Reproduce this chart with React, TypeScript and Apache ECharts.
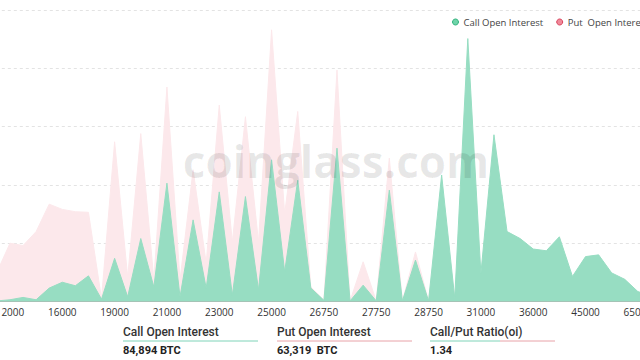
import React, { useEffect, useRef } from "react";
import * as echarts from "echarts";

const strikes = [
  "10000", "11000", "12000", "13000", "14000", "15000", "16000", "17000", "18000", "18500",
  "19000", "19500", "20000", "20500", "21000", "21500", "22000", "22500", "23000", "23500",
  "24000", "24500", "25000", "25500", "26000", "26500", "26750", "27000", "27250", "27500",
  "27750", "28000", "28250", "28500", "28750", "29000", "29500", "30000", "31000", "32000",
  "34000", "35000", "36000", "38000", "40000", "42000", "45000", "50000", "55000", "60000",
  "65000", "70000", "80000", "100000",
];

const callOI = [
  20, 20, 60, 140, 60, 460, 660, 540, 880, 80,
  1480, 160, 2160, 500, 4060, 160, 2800, 460, 3760, 220,
  3600, 400, 4860, 1020, 4160, 460, 40, 5260, 20, 560,
  20, 3820, 20, 1420, 20, 4340, 120, 9020, 960, 5720,
  2400, 2160, 1800, 1740, 2220, 860, 1540, 1600, 980, 760,
  340, 200, 100, 60,
];

const putOI = [
  700, 1000, 2000, 1920, 2400, 3340, 3160, 3080, 3060, 100,
  5480, 840, 5760, 740, 7360, 740, 4520, 1320, 6740, 2040,
  6340, 2040, 9320, 3020, 6520, 500, 40, 7940, 20, 1360,
  20, 4920, 20, 1700, 20, 3400, 100, 3000, 700, 2600,
  1400, 1200, 1100, 900, 2200, 500, 800, 700, 500, 400,
  200, 150, 80, 40,
];

const tickLabels = [
  "12000", "16000", "19000", "21000", "23000", "25000", "26750",
  "27750", "28750", "31000", "36000", "45000", "65000",
];

const seriesNames = ["Call Open Interest", "Put  Open Interest"];
const statTitles = ["Call Open Interest", "Put Open Interest", "Call/Put Ratio(oi)"];
const statValues = ["84,894 BTC", "63,319  BTC", "1.34"];

const OFFSET = 40; // chart div starts 40px left of the viewport
const W = 730;
const H = 360;

export default function App() {
  const ref = useRef<HTMLDivElement>(null);

  useEffect(() => {
    if (!ref.current) return;
    const chart = echarts.init(ref.current, undefined, { renderer: "svg" });
    const px = (x: number) => x + OFFSET;
    const green = "#97ddc2";
    const pink = "#fce8eb";
    const titleStyle = {
      fontSize: 12,
      fontWeight: 500,
      fontFamily: "Roboto",
      fill: "#333",
      verticalAlign: "middle",
    };
    const valueStyle = {
      fontSize: 11,
      fontWeight: "bold",
      fontFamily: "Roboto",
      fill: "#222",
      verticalAlign: "middle",
    };
    const statX = [123, 277, 430];
    const graphics: any[] = [
      {
        type: "text",
        x: px(336),
        y: 161,
        z: 100,
        silent: true,
        style: {
          text: "coinglass.com",
          fontSize: 44,
          fontWeight: "bold",
          fontFamily: "Open Sans",
          fill: "rgba(0,0,0,0.09)",
          align: "center",
          verticalAlign: "middle",
        },
      },
    ];
    statTitles.forEach((t, i) => {
      graphics.push({ type: "text", x: px(statX[i]), y: 332, style: { ...titleStyle, text: t } });
      graphics.push({ type: "text", x: px(statX[i]), y: 350, style: { ...valueStyle, text: statValues[i] } });
    });
    graphics.push({ type: "line", shape: { x1: px(123), y1: 341, x2: px(258), y2: 341 }, style: { stroke: "#7fd3b8", lineWidth: 1 } });
    graphics.push({ type: "line", shape: { x1: px(277), y1: 341, x2: px(412), y2: 341 }, style: { stroke: "#e8a2a8", lineWidth: 1 } });
    graphics.push({ type: "line", shape: { x1: px(430), y1: 341, x2: px(500), y2: 341 }, style: { stroke: "#7fd3b8", lineWidth: 1 } });
    graphics.push({ type: "line", shape: { x1: px(500), y1: 341, x2: px(555), y2: 341 }, style: { stroke: "#e8a2a8", lineWidth: 1 } });

    chart.setOption({
      animation: false,
      grid: { left: 23.8, right: 12.9, top: 10, bottom: 58.5, containLabel: false },
      legend: {
        left: px(447),
        top: 12,
        icon: "circle",
        itemWidth: 6,
        itemHeight: 6,
        itemGap: 13,
        textStyle: { fontSize: 9.5, color: "#444", fontFamily: "Open Sans" },
        data: [
          { name: seriesNames[0], itemStyle: { color: "#6fd4a9", borderColor: "#2fb27c", borderWidth: 1 } },
          { name: seriesNames[1], itemStyle: { color: "#f08a9a", borderColor: "#d9405a", borderWidth: 1 } },
        ],
      },
      xAxis: {
        type: "category",
        data: strikes,
        boundaryGap: false,
        axisLine: { lineStyle: { color: "#6b6b6b", width: 1 } },
        axisTick: { show: false },
        axisLabel: {
          interval: (_i: number, v: string) => tickLabels.includes(v),
          color: "#333",
          fontSize: 10,
          fontFamily: "Open Sans",
          margin: 5,
        },
        splitLine: { show: false },
      },
      yAxis: {
        type: "value",
        min: 0,
        max: 10000,
        interval: 2000,
        axisLabel: { show: false },
        axisLine: { show: false },
        axisTick: { show: false },
        splitLine: { lineStyle: { color: "#e3e3e3", type: [3, 3] } },
      },
      series: [
        {
          name: seriesNames[0],
          type: "line",
          data: callOI,
          symbol: "none",
          showSymbol: false,
          lineStyle: { width: 1, color: green },
          itemStyle: { color: "#3ec08c" },
          areaStyle: { color: green, opacity: 1 },
          z: 4,
        },
        {
          name: seriesNames[1],
          type: "line",
          data: putOI,
          symbol: "none",
          showSymbol: false,
          lineStyle: { width: 1, color: pink },
          itemStyle: { color: "#e0506a" },
          areaStyle: { color: pink, opacity: 1 },
          z: 3,
        },
      ],
      graphic: graphics,
    });
    return () => chart.dispose();
  }, []);

  return (
    <div
      ref={ref}
      style={{ position: "fixed", left: -OFFSET, top: 0, width: W, height: H, background: "#fff" }}
    />
  );
}
